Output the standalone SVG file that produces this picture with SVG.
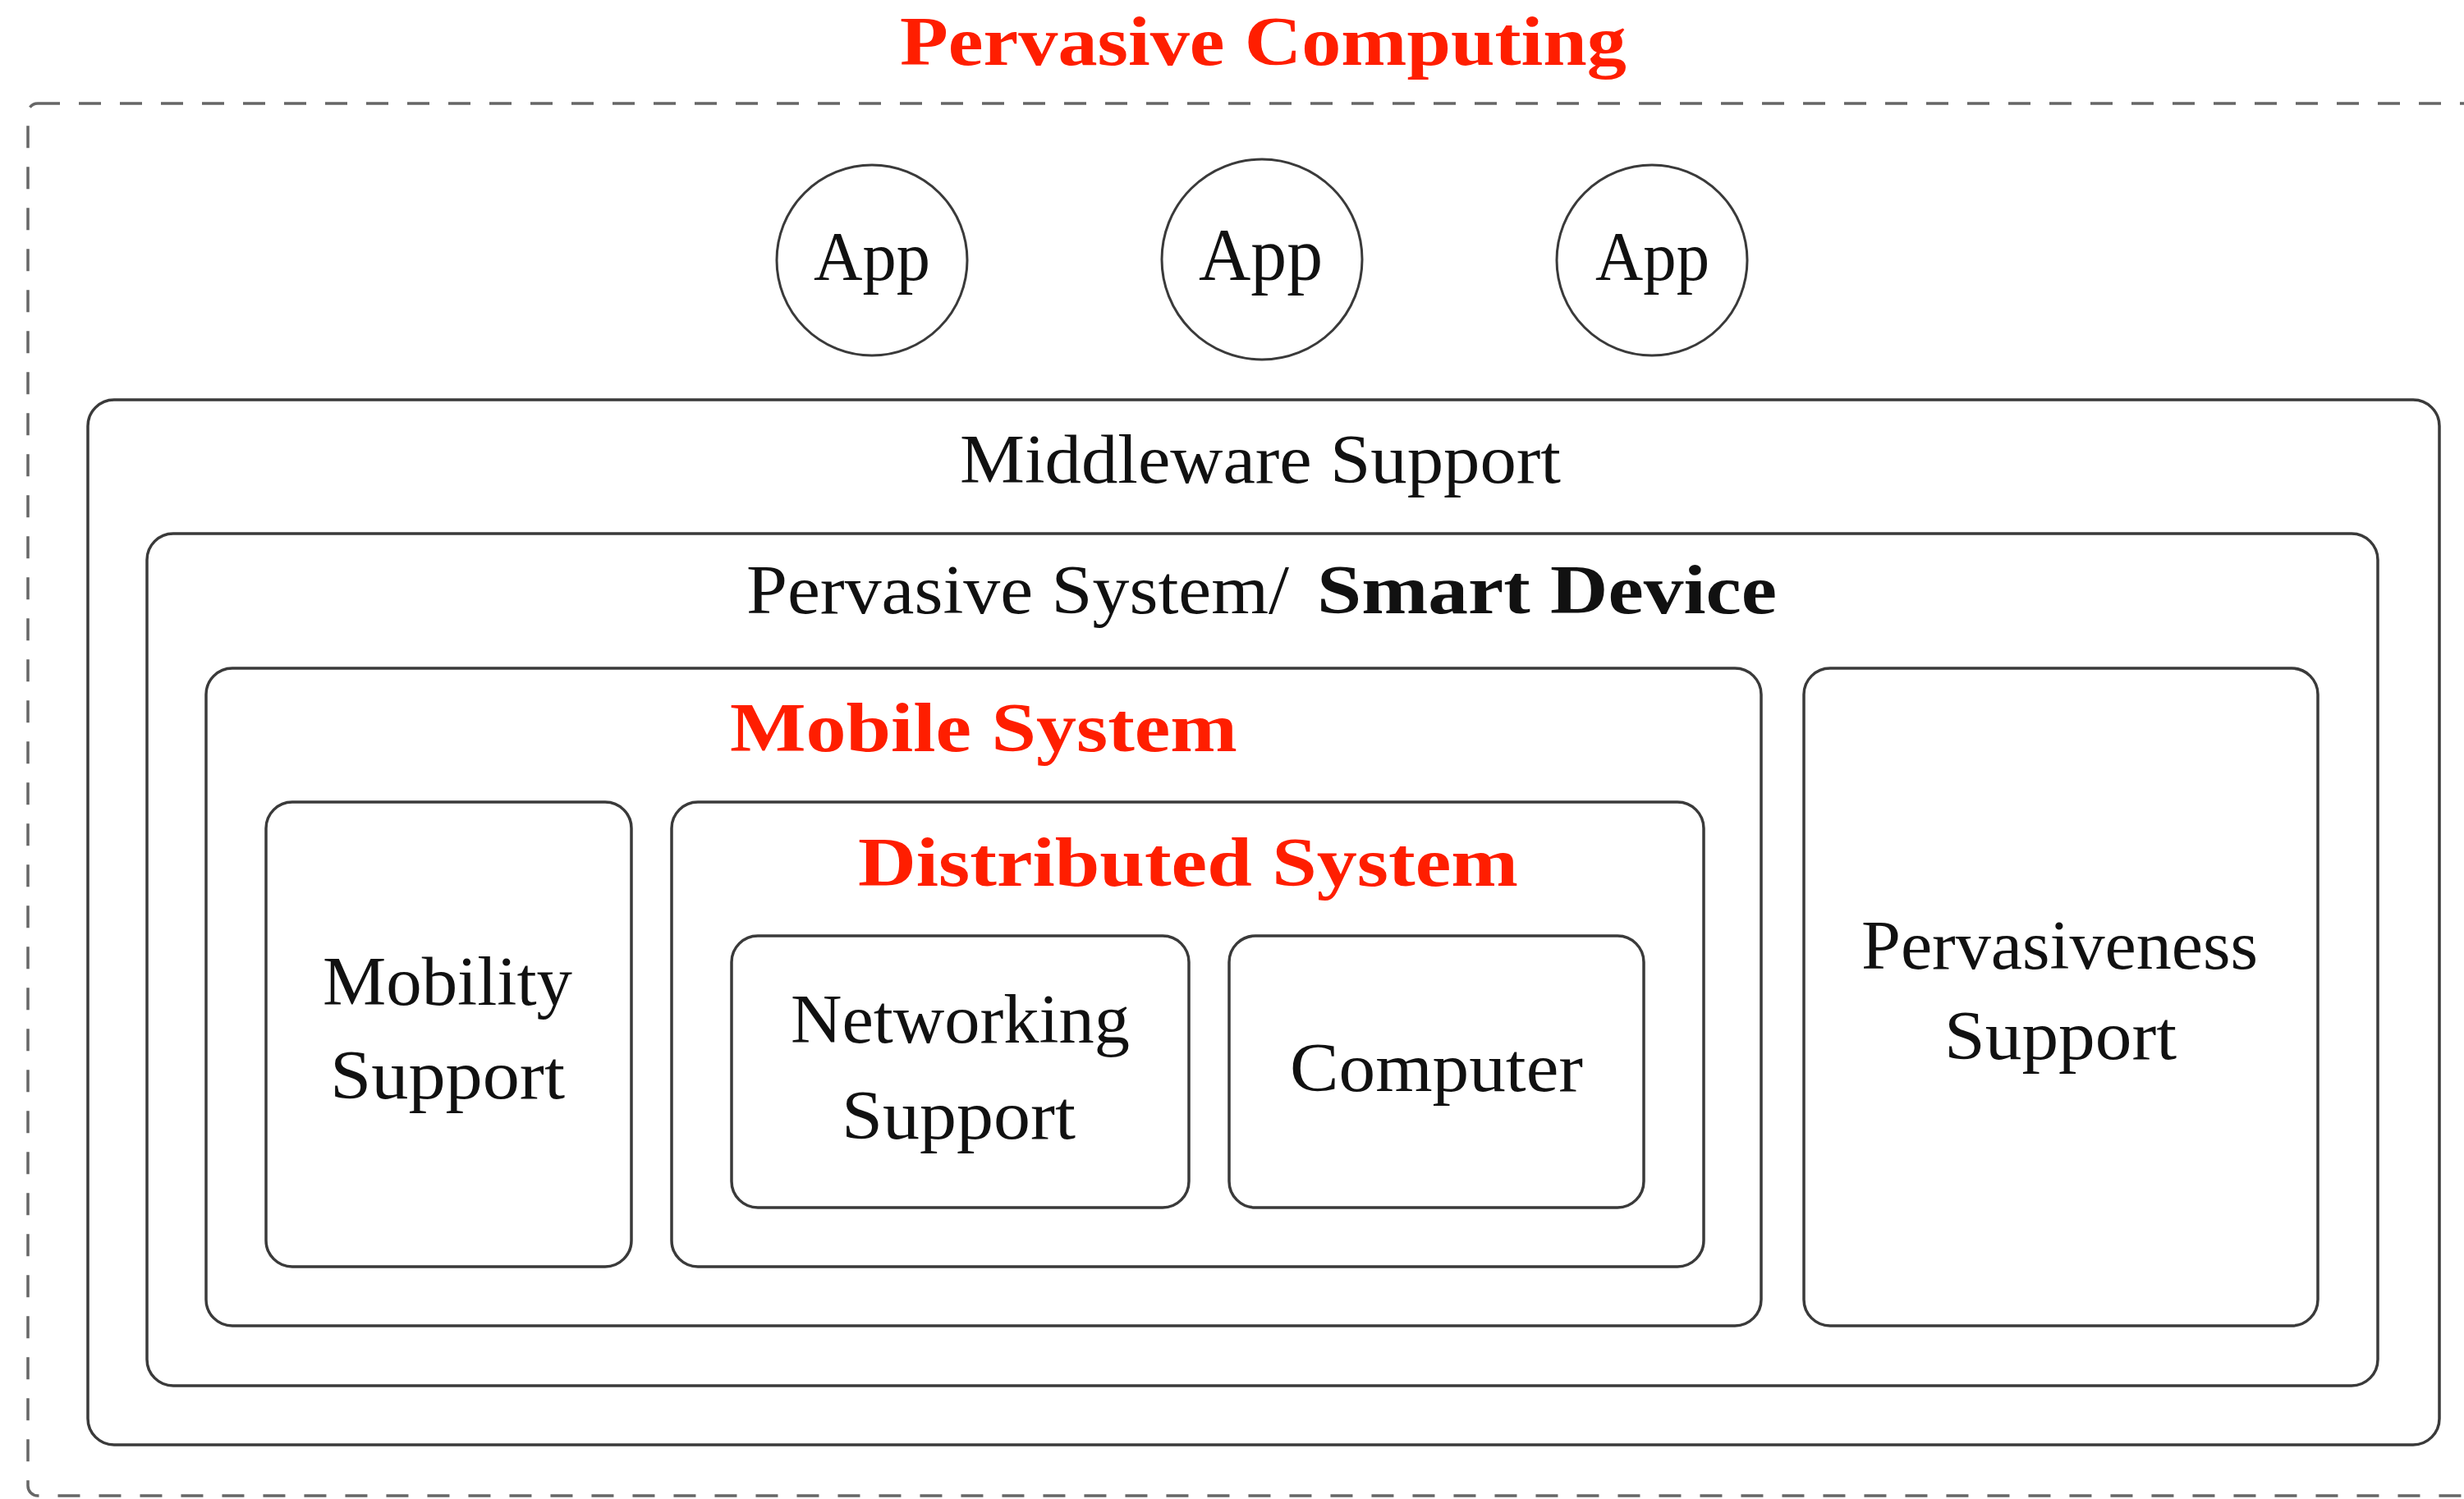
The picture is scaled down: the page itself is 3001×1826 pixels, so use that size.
<svg xmlns="http://www.w3.org/2000/svg" width="3001" height="1826" viewBox="0 0 3001 1826">
<style>
.box{fill:none;stroke:#3a3a3a;stroke-width:3.5}
.app{fill:#fff;stroke:#3a3a3a;stroke-width:3}
.dash{fill:none;stroke:#666;stroke-width:3.5;stroke-dasharray:27 23}
.t{font-family:"Liberation Serif","Times New Roman",serif;font-size:84px;fill:#111}
.b{font-family:"Liberation Serif","Times New Roman",serif;font-size:84px;font-weight:bold;fill:#111}
.r{font-family:"Liberation Serif","Times New Roman",serif;font-size:84px;font-weight:bold;fill:#ff1e00}
</style>
<rect width="3001" height="1826" fill="#fff"/>
<g id="pervasive-computing">
<rect class="dash" x="34" y="126" width="3020" height="1696" rx="12"/>
<text class="r" x="1096" y="79" textLength="885" lengthAdjust="spacingAndGlyphs">Pervasive Computing</text>
</g>
<g id="app1">
<circle class="app" cx="1062" cy="317" r="116"/>
<text class="t" x="991" y="341" textLength="142" lengthAdjust="spacingAndGlyphs">App</text>
</g>
<g id="app2">
<circle class="app" cx="1537" cy="316" r="122"/>
<text class="t" x="1460" y="341" font-size="90" style="font-size:90px" textLength="151" lengthAdjust="spacingAndGlyphs">App</text>
</g>
<g id="app3">
<circle class="app" cx="2012" cy="317" r="116"/>
<text class="t" x="1943" y="341" textLength="139" lengthAdjust="spacingAndGlyphs">App</text>
</g>
<g id="middleware">
<rect class="box" x="107" y="487" width="2864" height="1273" rx="32"/>
<text class="t" x="1169" y="588" textLength="732" lengthAdjust="spacingAndGlyphs">Middleware Support</text>
</g>
<g id="pervasive-system">
<rect class="box" x="179" y="650" width="2717" height="1038" rx="32"/>
<text class="t" x="909" y="747" textLength="661" lengthAdjust="spacingAndGlyphs">Pervasive System/</text>
<text class="b" x="1604" y="747" textLength="560" lengthAdjust="spacingAndGlyphs">Smart Device</text>
</g>
<g id="mobile-system">
<rect class="box" x="251" y="814" width="1894" height="801" rx="32"/>
<text class="r" x="889" y="915" textLength="618" lengthAdjust="spacingAndGlyphs">Mobile System</text>
</g>
<g id="pervasiveness-support">
<rect class="box" x="2197" y="814" width="626" height="801" rx="32"/>
<text class="t" x="2267" y="1180" textLength="483" lengthAdjust="spacingAndGlyphs">Pervasiveness</text>
<text class="t" x="2368" y="1290" textLength="283" lengthAdjust="spacingAndGlyphs">Support</text>
</g>
<g id="mobility-support">
<rect class="box" x="324" y="977" width="445" height="566" rx="32"/>
<text class="t" x="393" y="1224" textLength="304" lengthAdjust="spacingAndGlyphs">Mobility</text>
<text class="t" x="402" y="1338" textLength="286" lengthAdjust="spacingAndGlyphs">Support</text>
</g>
<g id="distributed-system">
<rect class="box" x="818" y="977" width="1257" height="566" rx="32"/>
<text class="r" x="1045" y="1079" textLength="804" lengthAdjust="spacingAndGlyphs">Distributed System</text>
</g>
<g id="networking-support">
<rect class="box" x="891" y="1140" width="557" height="331" rx="32"/>
<text class="t" x="963" y="1270" textLength="413" lengthAdjust="spacingAndGlyphs">Networking</text>
<text class="t" x="1025" y="1387" textLength="285" lengthAdjust="spacingAndGlyphs">Support</text>
</g>
<g id="computer">
<rect class="box" x="1497" y="1140" width="505" height="331" rx="32"/>
<text class="t" x="1571" y="1329" textLength="357" lengthAdjust="spacingAndGlyphs">Computer</text>
</g>
<g id="connectors"/>
</svg>
